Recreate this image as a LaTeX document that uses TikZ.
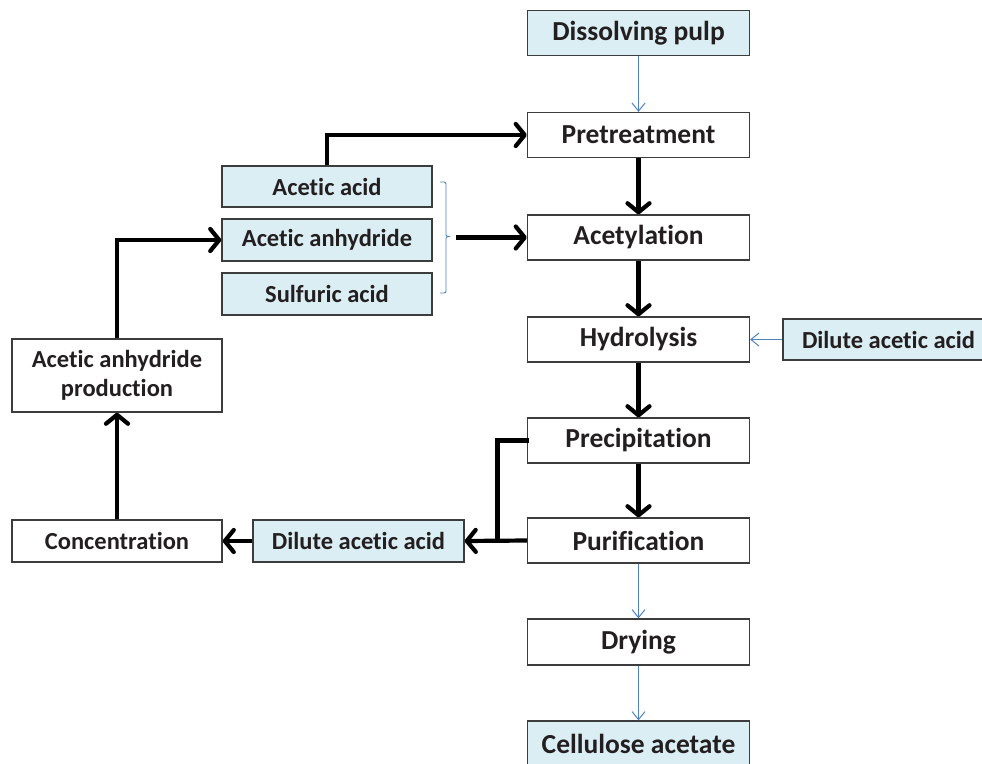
\documentclass[tikz,border=0pt]{standalone}
\usepackage{fontspec}
\setmainfont{Carlito}[Ligatures=NoCommon]
\usetikzlibrary{arrows.meta}
\definecolor{boxline}{HTML}{3C3C3C}
\definecolor{boxfill}{HTML}{DBEEF4}
\definecolor{txt}{HTML}{231F20}
\definecolor{thinblue}{HTML}{4F81BD}
\tikzset{
  box/.style={draw=boxline, line width=1.3pt, rectangle, minimum width=222pt, minimum height=45pt,
    inner sep=0pt, text=txt, font=\fontsize{27.5}{32}\selectfont\bfseries, align=center},
  sidebox/.style={box, minimum width=210pt, minimum height=42pt, font=\fontsize{24.5}{29}\selectfont\bfseries},
  blue/.style={fill=boxfill},
  thick arrow/.style={line width=4.2pt, draw=black, -{Straight Barb[length=9pt,width=22pt,round]}},
  thick line/.style={line width=4.2pt, draw=black},
  thin arrow/.style={line width=1pt, draw=thinblue, -{Straight Barb[length=8pt,width=13pt]}},
}
\begin{document}
\begin{tikzpicture}[x=1pt,y=-1pt]
\useasboundingbox (0,0) rectangle (982,763);
\clip (0,0) rectangle (982,763);
% main column
\node[box,blue] (dp) at (638.5,33) {Dissolving pulp};
\node[box] (pre) at (638.5,135) {Pretreatment};
\node[box] (acet) at (638.5,237.5) {Acetylation};
\node[box] (hyd) at (638.5,339.5) {Hydrolysis};
\node[box] (prec) at (638.5,440.5) {Precipitation};
\node[box] (pur) at (638.5,540.5) {Purification};
\node[box,minimum height=46pt] (dry) at (638.5,642) {Drying};
\node[box,blue,minimum height=46pt] (ca) at (638.5,744) {Cellulose acetate};
% right input
\node[sidebox,blue,minimum width=211pt,minimum height=41pt] (dilr) at (888.5,339.5) {Dilute acetic acid};
% left inputs
\node[sidebox,blue,minimum height=41pt] (aa) at (327,186.5) {Acetic acid};
\node[sidebox,blue] (anh) at (327,240) {Acetic anhydride};
\node[sidebox,blue] (sa) at (327,294) {Sulfuric acid};
% recovery
\node[sidebox,minimum height=73pt] (prod) at (117,375.5) {Acetic anhydride\\production};
\node[sidebox] (conc) at (117,541) {Concentration};
\node[sidebox,blue,minimum width=211pt] (dilm) at (358.5,541) {Dilute acetic acid};
% brace
\draw[thinblue, line width=0.9pt, rounded corners=2pt] (440,182) -- (446,182) -- (446,236.5) -- (450,236.5);
\draw[thinblue, line width=0.9pt, rounded corners=2pt] (450,236.5) -- (446,236.5) -- (446,293) -- (440,293);
\coordinate (btip) at (456,237.5);
\coordinate (junc) at (497.5,540.5);
% thin blue arrows
\draw[thin arrow] (dp) -- (pre);
\draw[thin arrow] (pur) -- (dry);
\draw[thin arrow] (dry) -- (ca);
\draw[thin arrow] (dilr) -- (hyd);
% thick arrows
\draw[thick arrow] (pre) -- (acet);
\draw[thick arrow] (acet) -- (hyd);
\draw[thick arrow] (hyd) -- (prec);
\draw[thick arrow] (prec) -- (pur);
\draw[thick arrow] (aa.north) |- (pre.west);
\draw[thick arrow] (btip) -- (acet.west);
\draw[thick arrow] (prod.north) |- (anh.west);
\draw[thick arrow] (conc.north) -- (prod.south);
\draw[thick arrow] (dilm.west) -- (conc.east);
\draw[thick arrow] (pur.west) -- (dilm.east);
\draw[thick line, line cap=rect] (prec.west) -| (junc);
\end{tikzpicture}
\end{document}
